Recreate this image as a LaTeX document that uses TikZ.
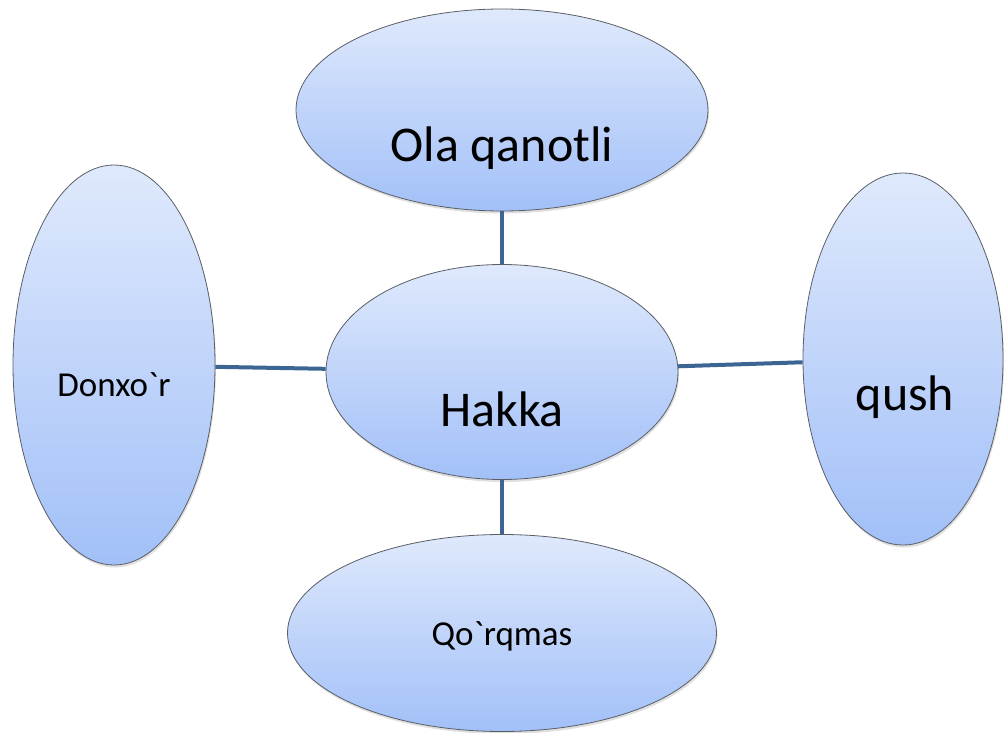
\documentclass[tikz,border=0pt]{standalone}
\usepackage{fontspec}
\newfontfamily\birdfont{Carlito}
\usetikzlibrary{shapes.geometric,shadows}
\definecolor{bubtop}{HTML}{DFE9FC}
\definecolor{bubbot}{HTML}{A2C0F8}
\definecolor{rim}{HTML}{5A5F66}
\definecolor{link}{HTML}{3D6593}

\begin{document}
\begin{tikzpicture}[x=1pt,y=-1pt,
bub/.style={ellipse,draw=rim,line width=0.8pt,top color=bubtop,bottom color=bubbot,inner sep=0pt,
drop shadow={opacity=0.25,shadow xshift=1pt,shadow yshift=-2.5pt}},
big/.style={font=\birdfont\fontsize{50}{60}\selectfont,anchor=base},
small/.style={font=\birdfont\fontsize{35}{42}\selectfont,anchor=base},
lnk/.style={line width=4pt,color=link}]
\useasboundingbox (0,0) rectangle (1005,733);
% bubbles
\node[bub,minimum width=412pt,minimum height=202pt] (wing) at (502,110) {};
\node[bub,minimum width=352pt,minimum height=215pt] (hakka) at (502,372) {};
\node[bub,minimum width=202pt,minimum height=400pt] (donxor) at (114,365) {};
\node[bub,minimum width=200pt,minimum height=372pt] (qush) at (903,359) {};
\node[bub,minimum width=429pt,minimum height=197pt] (qorq) at (502,633) {};
% texts
\node[big] (wingtxt) at ([yshift=-52pt]wing.center) {Ola qanotli};
\node[big] (hakkatxt) at ([yshift=-54pt]hakka.center) {Hakka};
\node[small] (donxortxt) at ([yshift=-31pt]donxor.center) {Donxo`r};
\node[big] (qushtxt) at ([xshift=2pt,yshift=-51pt]qush.center) {qush};
\node[small] (qorqtxt) at ([yshift=-12pt]qorq.center) {Qo`rqmas};
% links
\draw[lnk] (wing)--(hakka);
\draw[lnk] (hakka)--(qorq);
\draw[lnk] (donxor)--(hakka);
\draw[lnk] (hakka)--(qush);
\end{tikzpicture}
\end{document}
